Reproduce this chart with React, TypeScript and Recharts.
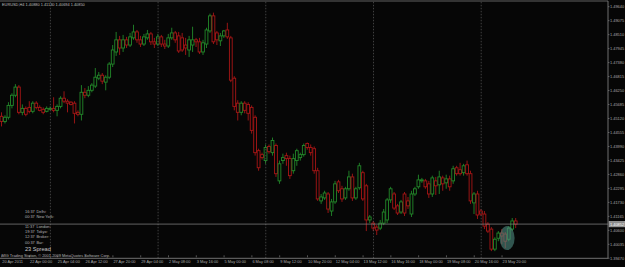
import React from 'react';
import { ComposedChart, Bar, XAxis, YAxis, ReferenceLine, ReferenceDot } from 'recharts';

const opens = [
  1.4521, 1.4500, 1.4517, 1.4565, 1.4606, 1.4639, 1.4537, 1.4553, 1.4557, 1.4541,
  1.4574, 1.4557, 1.4549, 1.4541, 1.4549, 1.4553, 1.4545, 1.4561, 1.4594, 1.4582,
  1.4578, 1.4574, 1.4537, 1.4529, 1.4618, 1.4606, 1.4626, 1.4643, 1.4675, 1.4687,
  1.4659, 1.4679, 1.4732, 1.4781, 1.4830, 1.4797, 1.4830, 1.4809, 1.4838, 1.4862,
  1.4830, 1.4813, 1.4838, 1.4854, 1.4822, 1.4813, 1.4842, 1.4813, 1.4805, 1.4838,
  1.4858, 1.4846, 1.4838, 1.4809, 1.4789, 1.4809, 1.4830, 1.4822, 1.4781, 1.4813,
  1.4866, 1.4927, 1.4858, 1.4826, 1.4846, 1.4870, 1.4838, 1.4675, 1.4574, 1.4537,
  1.4574, 1.4569, 1.4557, 1.4517, 1.4382, 1.4366, 1.4342, 1.4399, 1.4374, 1.4403,
  1.4260, 1.4342, 1.4362, 1.4350, 1.4301, 1.4342, 1.4354, 1.4366, 1.4411, 1.4395,
  1.4390, 1.4301, 1.4179, 1.4191, 1.4207, 1.4138, 1.4175, 1.4256, 1.4228, 1.4191,
  1.4228, 1.4276, 1.4191, 1.4232, 1.4293, 1.4240, 1.4102, 1.4089, 1.4073, 1.4069,
  1.4089, 1.4102, 1.4183, 1.4207, 1.4159, 1.4134, 1.4207, 1.4179, 1.4126, 1.4207,
  1.4236, 1.4260, 1.4260, 1.4248, 1.4207, 1.4260, 1.4244, 1.4272, 1.4252, 1.4268,
  1.4260, 1.4313, 1.4305, 1.4293, 1.4325, 1.4289, 1.4171, 1.4207, 1.4138, 1.4126,
  1.4085, 1.4065, 1.3984, 1.4028, 1.4049, 1.4045, 1.4024, 1.4065, 1.4098,
];
const highs = [
  1.4537, 1.4525, 1.4578, 1.4614, 1.4651, 1.4647, 1.4569, 1.4561, 1.4582, 1.4582,
  1.4582, 1.4565, 1.4557, 1.4561, 1.4561, 1.4598, 1.4569, 1.4602, 1.4622, 1.4590,
  1.4582, 1.4582, 1.4545, 1.4647, 1.4635, 1.4643, 1.4655, 1.4716, 1.4700, 1.4696,
  1.4687, 1.4740, 1.4809, 1.4862, 1.4846, 1.4850, 1.4842, 1.4858, 1.4891, 1.4870,
  1.4846, 1.4854, 1.4870, 1.4862, 1.4838, 1.4854, 1.4850, 1.4830, 1.4854, 1.4879,
  1.4866, 1.4862, 1.4858, 1.4838, 1.4846, 1.4883, 1.4838, 1.4838, 1.4830, 1.4879,
  1.4936, 1.4940, 1.4866, 1.4858, 1.4870, 1.4899, 1.4846, 1.4683, 1.4586, 1.4582,
  1.4582, 1.4578, 1.4565, 1.4525, 1.4390, 1.4374, 1.4407, 1.4407, 1.4435, 1.4411,
  1.4342, 1.4370, 1.4374, 1.4362, 1.4370, 1.4390, 1.4374, 1.4411, 1.4415, 1.4407,
  1.4399, 1.4313, 1.4207, 1.4220, 1.4215, 1.4187, 1.4260, 1.4264, 1.4240, 1.4236,
  1.4301, 1.4289, 1.4236, 1.4333, 1.4301, 1.4248, 1.4122, 1.4098, 1.4081, 1.4102,
  1.4146, 1.4191, 1.4236, 1.4215, 1.4167, 1.4183, 1.4215, 1.4195, 1.4220, 1.4236,
  1.4285, 1.4272, 1.4268, 1.4260, 1.4281, 1.4276, 1.4301, 1.4281, 1.4285, 1.4281,
  1.4321, 1.4321, 1.4333, 1.4329, 1.4342, 1.4301, 1.4215, 1.4220, 1.4146, 1.4138,
  1.4093, 1.4073, 1.4032, 1.4057, 1.4065, 1.4053, 1.4077, 1.4110, 1.4110,
];
const lows = [
  1.4480, 1.4492, 1.4508, 1.4553, 1.4598, 1.4529, 1.4525, 1.4521, 1.4533, 1.4533,
  1.4549, 1.4541, 1.4529, 1.4537, 1.4545, 1.4537, 1.4521, 1.4553, 1.4574, 1.4537,
  1.4565, 1.4492, 1.4521, 1.4504, 1.4594, 1.4598, 1.4618, 1.4635, 1.4667, 1.4651,
  1.4626, 1.4671, 1.4720, 1.4765, 1.4769, 1.4781, 1.4797, 1.4801, 1.4830, 1.4818,
  1.4801, 1.4805, 1.4830, 1.4809, 1.4797, 1.4805, 1.4801, 1.4793, 1.4797, 1.4830,
  1.4818, 1.4777, 1.4781, 1.4769, 1.4761, 1.4781, 1.4801, 1.4773, 1.4769, 1.4797,
  1.4858, 1.4813, 1.4809, 1.4805, 1.4838, 1.4834, 1.4659, 1.4545, 1.4504, 1.4525,
  1.4533, 1.4504, 1.4451, 1.4362, 1.4301, 1.4346, 1.4329, 1.4370, 1.4362, 1.4276,
  1.4248, 1.4329, 1.4321, 1.4268, 1.4289, 1.4321, 1.4342, 1.4358, 1.4386, 1.4362,
  1.4289, 1.4179, 1.4167, 1.4183, 1.4130, 1.4118, 1.4167, 1.4211, 1.4175, 1.4183,
  1.4220, 1.4179, 1.4183, 1.4224, 1.4179, 1.4057, 1.4089, 1.4057, 1.4041, 1.4061,
  1.4081, 1.4089, 1.4171, 1.4142, 1.4122, 1.4126, 1.4118, 1.4146, 1.4114, 1.4199,
  1.4228, 1.4252, 1.4228, 1.4191, 1.4195, 1.4203, 1.4207, 1.4220, 1.4228, 1.4220,
  1.4248, 1.4281, 1.4281, 1.4281, 1.4281, 1.4167, 1.4126, 1.4106, 1.4118, 1.4065,
  1.4049, 1.3976, 1.3976, 1.4016, 1.4004, 1.3988, 1.4016, 1.4057, 1.4069,
];
const closes = [
  1.4500, 1.4517, 1.4565, 1.4606, 1.4639, 1.4537, 1.4553, 1.4529, 1.4541, 1.4574,
  1.4557, 1.4545, 1.4537, 1.4553, 1.4553, 1.4545, 1.4561, 1.4594, 1.4582, 1.4574,
  1.4569, 1.4533, 1.4529, 1.4618, 1.4606, 1.4626, 1.4647, 1.4679, 1.4687, 1.4663,
  1.4679, 1.4732, 1.4789, 1.4830, 1.4797, 1.4830, 1.4809, 1.4842, 1.4862, 1.4830,
  1.4813, 1.4842, 1.4854, 1.4822, 1.4813, 1.4842, 1.4813, 1.4805, 1.4838, 1.4858,
  1.4830, 1.4785, 1.4789, 1.4797, 1.4830, 1.4830, 1.4822, 1.4781, 1.4818, 1.4870,
  1.4927, 1.4822, 1.4830, 1.4846, 1.4866, 1.4842, 1.4667, 1.4561, 1.4537, 1.4574,
  1.4545, 1.4533, 1.4464, 1.4374, 1.4313, 1.4354, 1.4395, 1.4378, 1.4423, 1.4289,
  1.4329, 1.4354, 1.4350, 1.4281, 1.4350, 1.4382, 1.4366, 1.4403, 1.4395, 1.4374,
  1.4301, 1.4187, 1.4195, 1.4211, 1.4146, 1.4175, 1.4248, 1.4220, 1.4187, 1.4228,
  1.4276, 1.4191, 1.4228, 1.4321, 1.4187, 1.4102, 1.4114, 1.4069, 1.4061, 1.4089,
  1.4134, 1.4183, 1.4228, 1.4150, 1.4130, 1.4175, 1.4130, 1.4159, 1.4207, 1.4228,
  1.4264, 1.4264, 1.4236, 1.4207, 1.4272, 1.4240, 1.4276, 1.4248, 1.4268, 1.4236,
  1.4309, 1.4289, 1.4289, 1.4321, 1.4289, 1.4179, 1.4207, 1.4122, 1.4126, 1.4077,
  1.4057, 1.3984, 1.4024, 1.4049, 1.4037, 1.4016, 1.4069, 1.4098, 1.4085,
];

const timeLabels = [
  '20 Apr 2011', '22 Apr 00:00', '25 Apr 04:00', '26 Apr 12:00', '27 Apr 20:00',
  '29 Apr 04:00', '2 May 08:00', '3 May 16:00', '5 May 00:00', '6 May 08:00',
  '9 May 12:00', '10 May 20:00', '12 May 04:00', '13 May 12:00', '16 May 16:00',
  '18 May 00:00', '19 May 08:00', '20 May 16:00', '23 May 20:00',
];
const timeLabelBars = [0, 8, 16, 24, 32, 40, 48, 56, 64, 72, 80, 88, 96, 104, 112, 120, 128, 136, 144];
const gridBars = [14, 45, 76, 107, 138];

const priceTicks = [
  1.4964, 1.49075, 1.4851, 1.47945, 1.4738, 1.46815, 1.4625, 1.45685, 1.4512, 1.44555,
  1.4399, 1.43425, 1.4286, 1.42295, 1.4173, 1.41165, 1.406, 1.40035, 1.3947,
];
const currentPrice = 1.40852;
const highlightBar = 145;
const highlightPrice = 1.4029;

const symbolHeader = 'EURUSD,H4  1.40880 1.41130 1.40694 1.40850';
const clockRows = [
  ['16:37', 'Delhi:'],
  ['00:37', 'New York:'],
  ['11:37', 'London:'],
  ['19:37', 'Tokyo:'],
  ['12:37', 'Broker:'],
  ['00:37', 'Bar:'],
];
const spreadText = '23 Spread';
const copyright = 'MIG Trading Station, \u00A9 2001-2009 MetaQuotes Software Corp.';

const SLOTS = 175;
const data = Array.from({ length: SLOTS }, (_, i) =>
  i < opens.length
    ? { i, range: [lows[i], highs[i]], o: opens[i], h: highs[i], l: lows[i], c: closes[i] }
    : { i, range: null, o: null, h: null, l: null, c: null }
);

const GREEN = '#23892a';
const RED = '#a81616';
const FONT = '"Liberation Sans", Arial, sans-serif';

const Candle = (props: any) => {
  const { x, y, width, height, payload } = props;
  if (!payload || payload.o == null || height == null) return null;
  const { o, h, l, c } = payload;
  const up = c >= o;
  const color = up ? GREEN : RED;
  const top0 = Math.min(y, y + height);
  const hh = Math.abs(height);
  const ratio = hh / (h - l);
  const cx = x + width / 2;
  const bTop = top0 + (h - Math.max(o, c)) * ratio;
  const bBot = top0 + (h - Math.min(o, c)) * ratio;
  return (
    <g>
      <line x1={cx} x2={cx} y1={top0} y2={top0 + hh} stroke={color} strokeWidth={0.9} />
      <rect
        x={cx - 1.4}
        y={bTop}
        width={2.8}
        height={Math.max(bBot - bTop, 0.6)}
        fill="#060606"
        stroke={color}
        strokeWidth={0.9}
      />
    </g>
  );
};

const XTick = (props: any) => {
  const { x, y, payload } = props;
  const idx = timeLabelBars.indexOf(payload.value);
  if (idx < 0) return null;
  return (
    <g>
      <line x1={x} x2={x} y1={y - 3} y2={y - 1} stroke="#8a8a8a" strokeWidth={0.6} />
      <text x={x + 0.5} y={y + 4.6} fontSize={3.9} fill="#a9a9a9" fontFamily={FONT} textAnchor="start">
        {timeLabels[idx]}
      </text>
    </g>
  );
};

const YTick = (props: any) => {
  const { x, y, payload } = props;
  return (
    <text x={x} y={y + 1.4} fontSize={3.9} fill="#a9a9a9" fontFamily={FONT} textAnchor="start">
      {Number(payload.value).toFixed(5)}
    </text>
  );
};

const PriceTag = (props: any) => {
  const vb = props.viewBox || {};
  const px = (vb.x || 0) + (vb.width || 0);
  const py = vb.y || 0;
  return (
    <g>
      <rect x={px + 1} y={py - 2.8} width={16} height={5.6} fill="#8c8c8c" stroke="#bbbbbb" strokeWidth={0.5} />
      <text x={px + 2} y={py + 1.4} fontSize={3.9} fill="#ffffff" fontFamily={FONT}>
        {currentPrice.toFixed(5)}
      </text>
    </g>
  );
};

const Highlight = (props: any) => {
  const { cx, cy } = props;
  if (cx == null || cy == null) return null;
  return <ellipse cx={cx + 1.6} cy={cy} rx={7.5} ry={12} fill="#4f8a80" fillOpacity={0.6} />;
};

export default function App() {
  return (
    <div style={{ position: 'fixed', left: 0, top: 0, width: 625, height: 267, background: '#060606', overflow: 'hidden' }}>
      <ComposedChart
        width={625}
        height={267}
        data={data}
        margin={{ top: 1, right: 0, bottom: 0, left: 0 }}
        barCategoryGap={0}
      >
        <XAxis
          dataKey="i"
          type="category"
          ticks={timeLabelBars}
          interval={0}
          height={8.7}
          tickLine={false}
          tickSize={0}
          tickMargin={0}
          axisLine={{ stroke: '#8a8a8a', strokeWidth: 0.8 }}
          tick={<XTick />}
        />
        <YAxis
          orientation="right"
          type="number"
          domain={[1.3947, 1.4987]}
          allowDataOverflow
          ticks={priceTicks}
          interval={0}
          width={17}
          tickSize={1.5}
          tickMargin={0.5}
          tickLine={{ stroke: '#8a8a8a', strokeWidth: 0.6 }}
          axisLine={{ stroke: '#8a8a8a', strokeWidth: 0.8 }}
          tick={<YTick />}
        />
        <ReferenceLine y={1.4987} stroke="#7a7a7a" strokeWidth={0.8} />
        {gridBars.map((b) => (
          <ReferenceLine key={b} x={b} stroke="#5a5a5a" strokeWidth={0.7} strokeDasharray="1.5 1.5" />
        ))}
        <ReferenceLine y={currentPrice} stroke="#8a8a8a" strokeWidth={0.7} label={<PriceTag />} />
        <Bar dataKey="range" barSize={3} shape={<Candle />} isAnimationActive={false} />
        <ReferenceDot x={highlightBar} y={highlightPrice} r={8} shape={<Highlight />} />
      </ComposedChart>
      <svg width={625} height={267} style={{ position: 'absolute', left: 0, top: 0, pointerEvents: 'none' }}>
        <text x={2} y={6.3} fontSize={3.9} fill="#bdbdbd" fontFamily={FONT}>{symbolHeader}</text>
        {clockRows.map((r, k) => {
          const ys = [213, 218, 227.8, 233, 238, 243.6];
          return (
            <g key={k}>
              <text x={25} y={ys[k]} fontSize={3.9} fill="#b5b5b5" fontFamily={FONT}>{r[0]}</text>
              <text x={36.5} y={ys[k]} fontSize={3.9} fill="#b5b5b5" fontFamily={FONT}>{r[1]}</text>
            </g>
          );
        })}
        <text x={25} y={250.5} fontSize={5.6} fill="#c8c8c8" fontFamily={FONT}>{spreadText}</text>
        <text x={1.5} y={256.5} fontSize={3.9} fill="#b5b5b5" fontFamily={FONT}>{copyright}</text>
      </svg>
    </div>
  );
}
